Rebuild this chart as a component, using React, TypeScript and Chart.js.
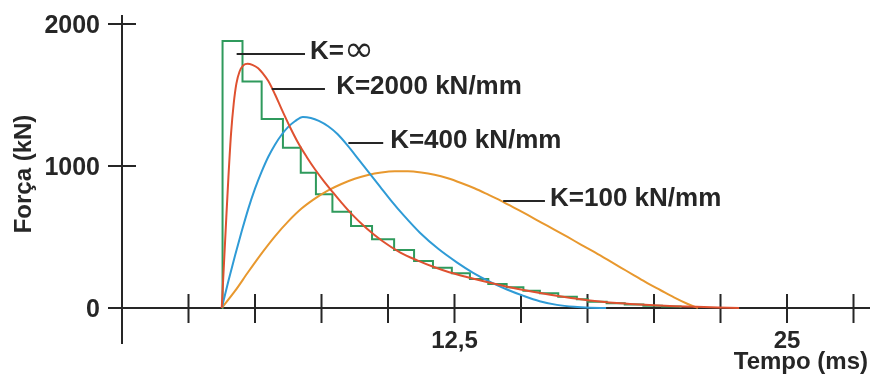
import React, { useEffect, useRef } from "react";
import { Chart, registerables } from "chart.js";

Chart.register(...registerables);

// ---- Data (time in ms, force in kN) ----
const redTime = [3.75, 3.9, 4.0, 4.1, 4.2, 4.3, 4.42, 4.56, 4.72, 4.9, 5.12, 5.3, 5.5, 5.75, 6.0, 6.3, 6.63, 6.95, 7.26, 7.6, 7.94, 8.25, 8.6, 9.2, 9.8, 10.45, 11.1, 11.7, 12.3, 12.96, 13.6, 14.2, 14.8, 15.45, 16.1, 16.7, 17.3, 17.97, 18.6, 19.3, 20.0, 20.8, 21.6, 22.4, 23.2];
const redForce = [0, 560, 920, 1230, 1440, 1580, 1665, 1708, 1720, 1712, 1688, 1650, 1598, 1505, 1400, 1280, 1160, 1062, 975, 890, 812, 742, 668, 560, 470, 392, 335, 290, 252, 218, 188, 162, 138, 115, 94, 76, 60, 46, 35, 26, 19, 13, 8, 4, 0];

const blueTime = [3.75, 4.0, 4.25, 4.5, 4.75, 5.0, 5.25, 5.5, 5.75, 6.0, 6.25, 6.5, 6.8, 7.1, 7.4, 7.75, 8.1, 8.5, 8.9, 9.3, 9.7, 10.1, 10.6, 11.2, 11.9, 12.6, 13.2, 13.8, 14.45, 15.1, 15.7, 16.35, 17.0, 17.6, 18.2];
const blueForce = [0, 190, 370, 540, 700, 840, 960, 1065, 1150, 1220, 1275, 1315, 1345, 1338, 1318, 1280, 1225, 1140, 1045, 950, 855, 760, 650, 530, 415, 320, 248, 188, 132, 85, 48, 22, 8, 2, 0];

const orangeTime = [3.75, 4.25, 4.75, 5.25, 5.75, 6.25, 6.75, 7.25, 7.75, 8.25, 8.75, 9.25, 9.75, 10.25, 10.75, 11.25, 11.75, 12.25, 12.75, 13.25, 13.75, 14.25, 14.75, 15.25, 15.75, 16.25, 16.75, 17.25, 17.75, 18.25, 18.75, 19.25, 19.75, 20.25, 20.75, 21.25, 21.65];
const orangeForce = [0, 120, 255, 385, 505, 610, 700, 770, 828, 873, 910, 937, 954, 962, 962, 954, 938, 913, 880, 843, 800, 755, 705, 655, 603, 552, 500, 447, 395, 340, 285, 230, 175, 125, 75, 30, 0];

const greenTime = [3.75, 3.78, 4.53, 5.25, 6.05, 6.72, 7.29, 7.91, 8.61, 9.4, 10.23, 10.98, 11.69, 12.4, 13.08, 13.77, 14.46, 15.09, 15.71, 16.4, 17.1, 17.52, 18.22, 18.9, 19.6, 20.3, 21.0];
const greenForce = [0, 1880, 1594, 1331, 1129, 953, 801, 678, 577, 484, 408, 331, 284, 245, 205, 169, 146, 122, 103, 80, 61, 44, 33, 24, 16, 10, 0];

const seriesNames = ["K=2000 kN/mm", "K=400 kN/mm", "K=100 kN/mm", "K=∞"];

const xTickValues = [0, 2.5, 5, 7.5, 10, 12.5, 15, 17.5, 20, 22.5, 25, 27.5];
const xTickLabels = ["", "", "", "", "", "12,5", "", "", "", "", "25", ""];
const yTickValues = [0, 1000, 2000];
const yTickLabels = ["0", "1000", "2000"];

const xTitle = "Tempo (ms)";
const yTitle = "Força (kN)";

// annotation leaders: [label, leaderStartX, leaderEndX, textX, y]  (data units)
const annotations: [string, number, number, number, number][] = [
  ["K=", 4.31, 6.88, 7.07, 1790],
  ["K=2000 kN/mm", 5.63, 7.63, 8.05, 1540],
  ["K=400 kN/mm", 8.51, 9.82, 10.08, 1160],
  ["K=100 kN/mm", 14.33, 15.9, 16.09, 756],
];

const RED = "#df5130";
const BLUE = "#2f9bd6";
const ORANGE = "#e8982e";
const GREEN = "#2f9a5c";
const INK = "#262626";
const FONT = "bold 24px 'Liberation Sans', Arial, sans-serif";
const YFONT = "bold 25px 'Liberation Sans', Arial, sans-serif";
const LABEL_FONT = "bold 26px 'Liberation Sans', Arial, sans-serif";

const toPts = (t: number[], f: number[]) => t.map((v, i) => ({ x: v, y: f[i] }));

const axesPlugin = {
  id: "customAxes",
  beforeDatasetsDraw(chart: any) {
    const { ctx } = chart;
    const x = chart.scales.x;
    const y = chart.scales.y;
    const x0 = x.getPixelForValue(0);
    const y0 = y.getPixelForValue(0);
    ctx.save();
    ctx.strokeStyle = INK;
    ctx.lineWidth = 2;
    ctx.beginPath();
    ctx.moveTo(x0 - 14, y0);
    ctx.lineTo(x.right, y0);
    ctx.moveTo(x0, y.top);
    ctx.lineTo(x0, y0 + 36);
    xTickValues.forEach((t) => {
      if (t === 0) return;
      const px = x.getPixelForValue(t);
      ctx.moveTo(px, y0 - 14);
      ctx.lineTo(px, y0 + 15);
    });
    yTickValues.forEach((v) => {
      const py = y.getPixelForValue(v);
      ctx.moveTo(x0 - 14, py);
      ctx.lineTo(x0 + 14, py);
    });
    ctx.stroke();

    ctx.fillStyle = INK;
    ctx.font = YFONT;
    ctx.textBaseline = "alphabetic";
    ctx.textAlign = "right";
    yTickValues.forEach((v, i) => {
      const py = y.getPixelForValue(v);
      ctx.fillText(yTickLabels[i], x0 - 22, py + 9);
    });
    ctx.font = FONT;
    ctx.textAlign = "center";
    xTickValues.forEach((t, i) => {
      if (!xTickLabels[i]) return;
      const px = x.getPixelForValue(t);
      ctx.fillText(xTickLabels[i], px, y0 + 40);
    });
    ctx.textAlign = "right";
    ctx.fillText(xTitle, chart.width - 4, y0 + 61);

    ctx.save();
    ctx.translate(31, (y.getPixelForValue(1000) + y.getPixelForValue(0)) / 2 + 20 - 83);
    ctx.rotate(-Math.PI / 2);
    ctx.textAlign = "center";
    ctx.fillText(yTitle, 0, 0);
    ctx.restore();
    ctx.restore();
  },
  afterDatasetsDraw(chart: any) {
    const { ctx } = chart;
    const x = chart.scales.x;
    const y = chart.scales.y;
    ctx.save();
    ctx.strokeStyle = INK;
    ctx.fillStyle = INK;
    ctx.lineWidth = 2;
    ctx.textAlign = "left";
    ctx.textBaseline = "alphabetic";
    annotations.forEach(([label, a, b, tx, v]) => {
      const py = Math.round(y.getPixelForValue(v));
      ctx.beginPath();
      ctx.moveTo(x.getPixelForValue(a), py);
      ctx.lineTo(x.getPixelForValue(b), py);
      ctx.stroke();
      const px = x.getPixelForValue(tx);
      ctx.font = LABEL_FONT;
      ctx.fillText(label, px, py + 5);
      if (label === "K=") {
        const w = ctx.measureText(label).width;
        ctx.font = "36px 'DejaVu Sans', sans-serif";
        ctx.fillText("∞", px + w, py + 7);
      }
    });
    ctx.restore();
  },
};

export default function App() {
  const ref = useRef<HTMLCanvasElement | null>(null);
  useEffect(() => {
    if (!ref.current) return;
    const common = { pointRadius: 0, borderWidth: 2, fill: false, clip: false as any };
    const chart = new Chart(ref.current, {
      type: "line",
      data: {
        datasets: [
          { ...common, label: seriesNames[0], data: toPts(redTime, redForce), borderColor: RED, cubicInterpolationMode: "monotone" },
          { ...common, label: seriesNames[1], data: toPts(blueTime, blueForce), borderColor: BLUE, cubicInterpolationMode: "monotone" },
          { ...common, label: seriesNames[2], data: toPts(orangeTime, orangeForce), borderColor: ORANGE, cubicInterpolationMode: "monotone" },
          { ...common, label: seriesNames[3], data: toPts(greenTime, greenForce), borderColor: GREEN, stepped: "before" },
        ],
      },
      options: {
        animation: false,
        responsive: false,
        maintainAspectRatio: false,
        layout: { padding: { left: 122, right: 2, top: 15, bottom: 68 } },
        plugins: { legend: { display: false }, tooltip: { enabled: false } },
        scales: {
          x: { type: "linear", min: 0, max: 28.12, display: false },
          y: { type: "linear", min: 0, max: 2063, display: false },
        },
      },
      plugins: [axesPlugin],
    });
    return () => chart.destroy();
  }, []);
  return (
    <div style={{ position: "fixed", left: 0, top: 0, width: 872, height: 376, background: "#fff" }}>
      <canvas ref={ref} width={872} height={376} />
    </div>
  );
}
